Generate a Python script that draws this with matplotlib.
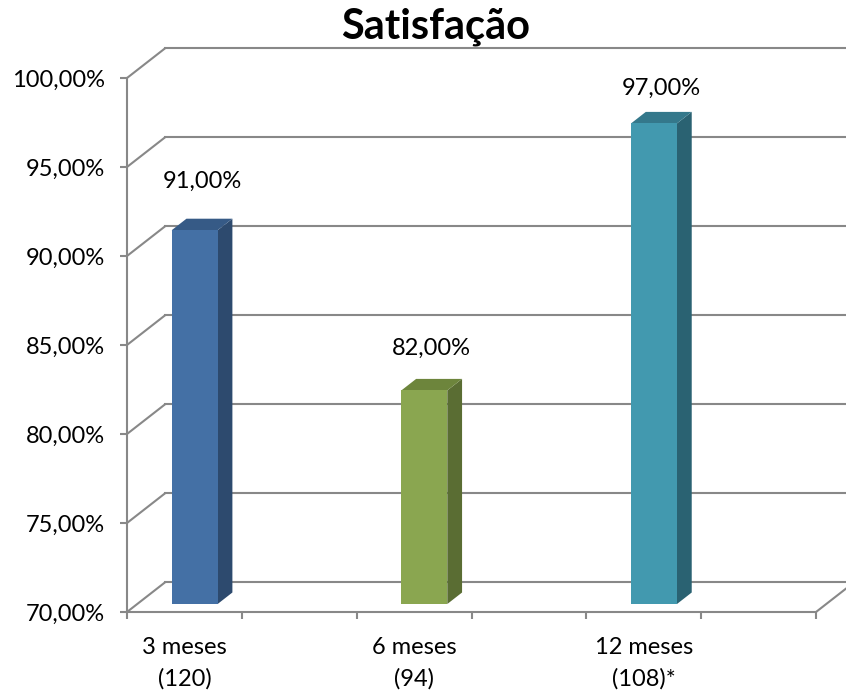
import matplotlib
matplotlib.use("Agg")
import numpy as np
import matplotlib.pyplot as plt
import matplotlib.ticker as ticker
from matplotlib.patches import Polygon

# ─── Data ─────────────────────────────────────────────────────────────────────
categories = ["3 meses\n(120)", "6 meses\n(94)", "12 meses\n(108)*"]
values     = [91.0, 82.0, 97.0]
y_ticks    = [70, 75, 80, 85, 90, 95, 100]
title      = "Satisfação"

# ─── Style ────────────────────────────────────────────────────────────────────
FONT   = "Lato"
GRID   = "#888888"
FRONT  = ["#4470A5", "#8AA650", "#4299AF"]
SIDE   = ["#2D4A6E", "#5A6D33", "#2A6272"]
TOP    = ["#365A86", "#6D853C", "#34788B"]
DX, DY = 0.165, 1.66      # full wall depth in data units
D0, D1 = 0.27, 0.66       # bar depth span (fraction of wall)
BAR_W  = 0.2
LABEL_OFF = [37, 31, 24]  # px above bar top
FS = 17

plt.rcParams["font.family"] = [FONT, "DejaVu Sans"]

fig = plt.figure(figsize=(8.46, 6.95), dpi=100)
ax = fig.add_axes([127 / 846, (695 - 612) / 695, 689 / 846, 534 / 695])
ax.set_xlim(-0.25, 2.75)
ax.set_ylim(70, 100)
ax.patch.set_visible(False)

# back wall + side wall gridlines
x0, x1 = ax.get_xlim()
for y in y_ticks:
    ax.plot([x0, x0 + DX], [y, y + DY], color=GRID, lw=1.5, clip_on=False, zorder=1)
    ax.plot([x0 + DX, x1 + DX + 0.2], [y + DY, y + DY], color=GRID, lw=1.5,
            clip_on=False, zorder=1)
ax.plot([x1, x1 + DX], [70, 70 + DY], color=GRID, lw=1.5, clip_on=False, zorder=1)

# 3D bars
base = y_ticks[0]
for i, v in enumerate(values):
    xl = i - BAR_W / 2
    xr = i + BAR_W / 2
    f = [(xl + D0 * DX, base + D0 * DY), (xr + D0 * DX, base + D0 * DY),
         (xr + D0 * DX, v + D0 * DY), (xl + D0 * DX, v + D0 * DY)]
    s = [(xr + D0 * DX, base + D0 * DY), (xr + D1 * DX, base + D1 * DY),
         (xr + D1 * DX, v + D1 * DY), (xr + D0 * DX, v + D0 * DY)]
    t = [(xl + D0 * DX, v + D0 * DY), (xr + D0 * DX, v + D0 * DY),
         (xr + D1 * DX, v + D1 * DY), (xl + D1 * DX, v + D1 * DY)]
    for pts, c in ((s, SIDE[i]), (t, TOP[i]), (f, FRONT[i])):
        ax.add_patch(Polygon(pts, closed=True, facecolor=c, edgecolor="none",
                             zorder=3, clip_on=False))
    ax.annotate(f"{v:.2f}%".replace(".", ","),
                xy=(i + (D0 + D1) / 2 * DX, v + D1 * DY),
                xytext=(0, LABEL_OFF[i]), textcoords="offset pixels",
                ha="center", va="center", fontsize=FS, color="black",
                annotation_clip=False, zorder=5)

# axes / ticks
for sp in ["top", "right"]:
    ax.spines[sp].set_visible(False)
for sp in ["left", "bottom"]:
    ax.spines[sp].set_color(GRID)
    ax.spines[sp].set_linewidth(1.5)
    ax.spines[sp].set_zorder(4)

ax.set_yticks(y_ticks)
ax.yaxis.set_major_formatter(ticker.FuncFormatter(lambda y, _: f"{y:.2f}%".replace(".", ",")))
ax.tick_params(axis="y", length=5, width=1.5, color=GRID, pad=11, labelsize=FS)

ax.set_xticks(np.arange(x0, x1 + 0.01, 0.5))
ax.set_xticklabels([])
ax.set_xticks(range(len(categories)), minor=True)
ax.set_xticklabels(categories, minor=True)
ax.tick_params(axis="x", which="major", length=5, width=1.5, color=GRID)
ax.tick_params(axis="x", which="minor", length=0, pad=18, labelsize=FS)
for lbl in ax.get_xticklabels(minor=True):
    lbl.set_linespacing(1.55)

fig.text(436 / 846, 1 - 27 / 695, title, ha="center", va="center",
         fontsize=30, fontweight="bold")

fig.savefig("out.png", dpi=100)
